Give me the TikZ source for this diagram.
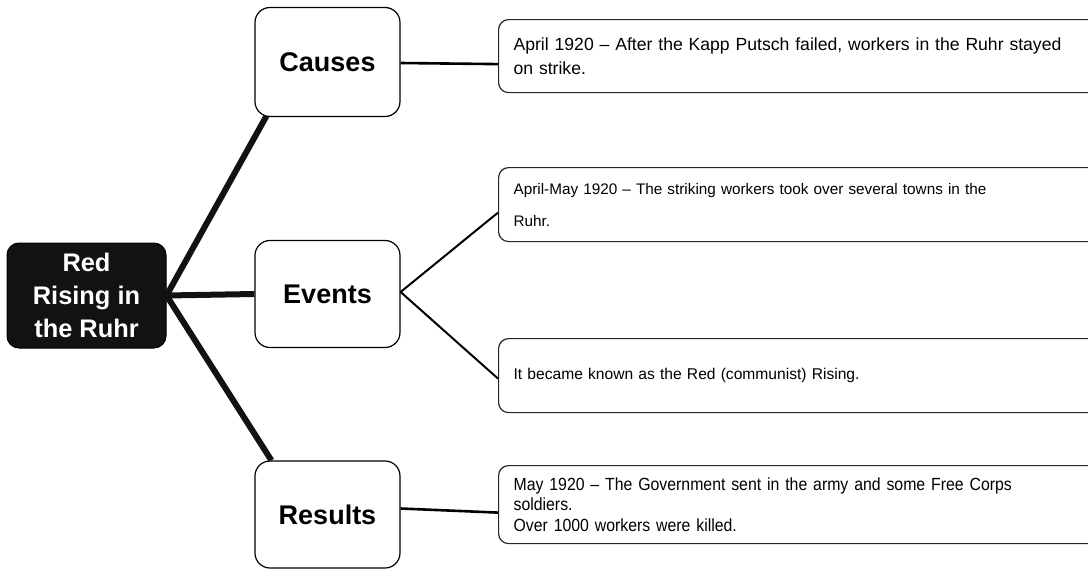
\documentclass[tikz,border=0pt]{standalone}
\usepackage{fontspec}
\setmainfont{Liberation Sans}
\newfontfamily\narrowfont[FakeStretch=0.9]{Liberation Sans}
\usetikzlibrary{calc}
\begin{document}
\begin{tikzpicture}[x=1pt,y=-1pt,
  rootbox/.style={draw=black,fill=black!93,text=white,rounded corners=12pt,line width=1pt,
    font=\fontsize{25.4}{33}\selectfont\bfseries,align=center,inner sep=0pt},
  topicbox/.style={draw=black,fill=white,rounded corners=15pt,line width=1.2pt,
    font=\fontsize{27}{30}\selectfont\bfseries,inner sep=0pt},
  notebox/.style={draw=black!85,fill=white,rounded corners=10pt,line width=1.2pt,
    align=left,inner xsep=13pt,inner ysep=0pt,anchor=north west},
  trunk/.style={line width=6pt,black!93},
  branch/.style={line width=2.6pt,black},
  twig/.style={line width=2pt,black}]
\clip (0,0) rectangle (1088,570);
\fill[white] (0,0) rectangle (1088,570);

% central topic and its three headings
\node[rootbox,minimum width=159pt,minimum height=105pt] (root) at (86.5,295.5)
  {Red\\Rising in\\the Ruhr};
\node[topicbox,minimum width=145pt,minimum height=109pt] (causes) at (327.5,62) {Causes};
\node[topicbox,minimum width=145pt,minimum height=107pt] (events) at (327.5,294) {Events};
\node[topicbox,minimum width=145pt,minimum height=107pt] (results) at (327.5,514.5) {Results};

% note boxes (run past the right edge)
\node[notebox,minimum width=600pt,minimum height=73pt,text width=570pt,
  font=\fontsize{17.6}{24}\selectfont] (n1) at (498,19)
  {April 1920 – After the Kapp Putsch failed, workers in the Ruhr stayed\\on strike.};
\node[notebox,minimum width=600pt,minimum height=74pt,text width=570pt,
  font=\fontsize{15.3}{32}\selectfont] (n2) at (498,167)
  {April-May 1920 – The striking workers took over several towns in the\\Ruhr.};
\node[notebox,minimum width=600pt,minimum height=74pt,text width=570pt,
  font=\fontsize{15.6}{20}\selectfont] (n3) at (498,338)
  {It became known as the Red (communist) Rising.};
\node[notebox,minimum width=600pt,minimum height=78pt,text width=570pt,
  font=\narrowfont\fontsize{17.6}{20.5}\selectfont] (n4) at (498,465)
  {May 1920 – The Government sent in the army and some Free Corps\\soldiers.\\Over 1000 workers were killed.};

% thick connectors from the central topic
\draw[trunk] (root.east) -- ($(causes.south west)+(12,-1)$);
\draw[trunk] (root.east) -- (events.west);
\draw[trunk] (root.east) -- ($(results.north west)+(17,0)$);

% connectors from headings to notes
\draw[branch] ($(causes.east)+(0,1)$) -- ($(n1.west)+(0,8)$);
\draw[twig] ($(events.east)+(0,-2)$) -- ($(n2.west)+(0,8)$);
\draw[twig] ($(events.east)+(0,-2)$) -- ($(n3.west)+(0,3)$);
\draw[branch] ($(results.east)+(0,-6)$) -- ($(n4.west)+(0,8)$);
\end{tikzpicture}
\end{document}
